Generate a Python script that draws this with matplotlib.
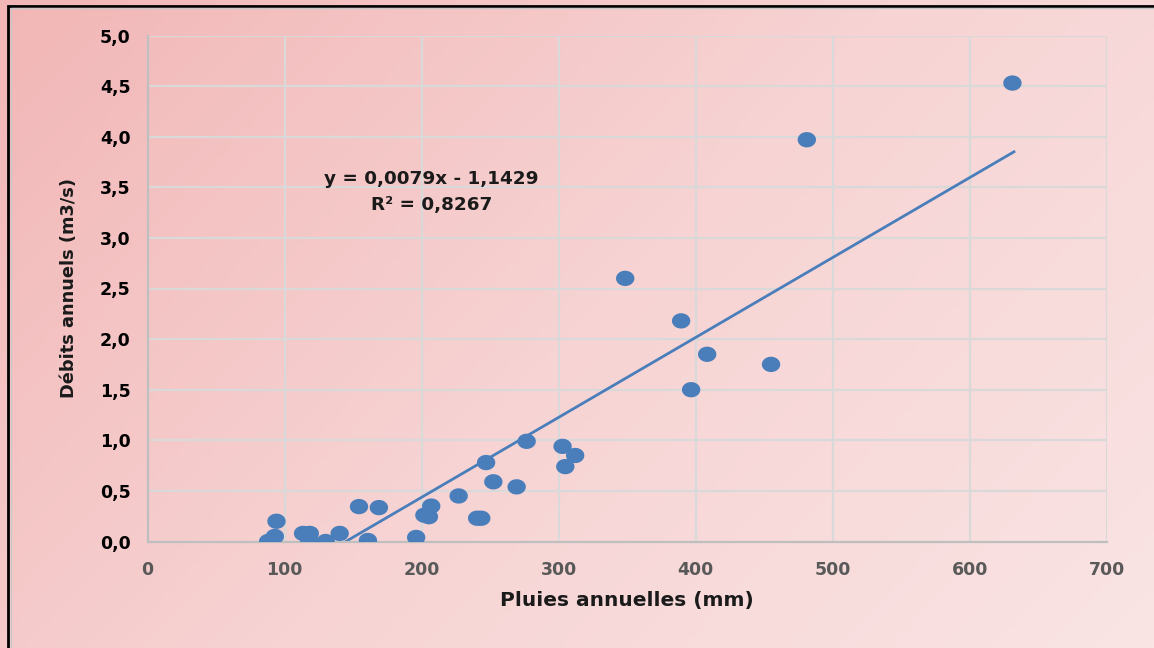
import numpy as np
import matplotlib
matplotlib.use("Agg")
import matplotlib.pyplot as plt
from matplotlib.colors import LinearSegmentedColormap
from matplotlib.patches import Rectangle
from matplotlib.path import Path

# Data
pluies = [88, 92.9, 94.1, 113.5, 118.4, 117.9, 130, 140.2, 154.3, 160.8, 168.8,
          196, 202, 205.3, 207, 227, 240.5, 243.5, 247, 252.3, 269.3, 276.6,
          302.8, 312, 304.8, 348.5, 389.3, 408.3, 396.6, 454.9, 481, 631]
debits = [0.0, 0.05, 0.2, 0.08, 0.08, 0.015, 0.0, 0.08, 0.345, 0.01, 0.335,
          0.04, 0.26, 0.245, 0.35, 0.45, 0.23, 0.23, 0.78, 0.59, 0.54, 0.99,
          0.94, 0.85, 0.74, 2.60, 2.18, 1.85, 1.50, 1.75, 3.97, 4.53]
slope = 0.0079
intercept = -1.1429
r2 = 0.8267
xticks = [0, 100, 200, 300, 400, 500, 600, 700]
yticks = [0.0, 0.5, 1.0, 1.5, 2.0, 2.5, 3.0, 3.5, 4.0, 4.5, 5.0]

blue = "#4a7ebb"

fig = plt.figure(figsize=(11.54, 6.48), dpi=100)

# background gradient
bg = fig.add_axes([0, 0, 1, 1], zorder=-10)
gx, gy = np.meshgrid(np.linspace(0, 1, 300), np.linspace(0, 1, 300))
g = (gx * 0.65 + gy * 0.35)
cmap = LinearSegmentedColormap.from_list("pk", ["#f2b6b6", "#f7d3d3", "#fae4e4"])
bg.imshow(g, cmap=cmap, aspect="auto", extent=[0, 1, 0, 1], origin="upper")
bg.set_xlim(0, 1)
bg.set_ylim(0, 1)
bg.axis("off")
# frame
bg.add_patch(Rectangle((8 / 1154, -0.1), 1.2, 1 - 6 / 648 + 0.1, fill=False,
                       edgecolor="black", lw=2.0, transform=bg.transAxes))
bg.add_patch(Rectangle((10.5 / 1154, -0.1), 1.2, 1 - 8.5 / 648 + 0.1, fill=False,
                       edgecolor="#c8c8c8", lw=1.0, transform=bg.transAxes))

ax = fig.add_axes([147.5 / 1154, 1 - 541.5 / 648, (1107 - 147.5) / 1154,
                   (541.5 - 35.5) / 648])
ax.patch.set_alpha(0)

# slightly wide elliptical marker, like the reference
t = np.linspace(0, 2 * np.pi, 60)
ell = Path(np.column_stack([1.2 * np.cos(t), np.sin(t)]), closed=True)
ax.scatter(pluies, debits, s=175, marker=ell, color=blue, zorder=3,
           edgecolors="none")
xl = np.array([min(pluies), max(pluies) + 2])
ax.plot(xl, slope * xl + intercept, color=blue, lw=2.0, zorder=2,
        solid_capstyle="butt")

ax.set_xlim(0, 700)
ax.set_ylim(0, 5)
ax.set_xticks(xticks)
ax.set_yticks(yticks)
ax.set_xticklabels([str(v) for v in xticks], color="#595959",
                   fontweight="bold", fontsize=12.5)
ax.set_yticklabels([f"{v:.1f}".replace(".", ",") for v in yticks],
                   color="black", fontweight="bold", fontsize=12.5)
ax.tick_params(length=0, pad=12)
ax.tick_params(axis="x", pad=14)
ax.grid(True, color="#d9d9d9", lw=1.6)
ax.set_axisbelow(True)
for s in ["top", "right"]:
    ax.spines[s].set_visible(False)
for s in ["left", "bottom"]:
    ax.spines[s].set_color("#bfbfbf")
    ax.spines[s].set_linewidth(1.6)

ax.set_xlabel("Pluies annuelles (mm)", fontsize=14.5, fontweight="bold",
              color="#1a1a1a", labelpad=9)
ax.set_ylabel("Débits annuels (m3/s)", fontsize=12.8, fontweight="bold",
              color="#1a1a1a", labelpad=16)

eq = f"y = {slope:.4f}x - {abs(intercept):.4f}".replace(".", ",")
r2t = f"R² = {r2:.4f}".replace(".", ",")
ax.text(207, 3.58, eq, ha="center", va="center", fontsize=13.2,
        fontweight="bold", color="#1a1a1a")
ax.text(207, 3.33, r2t, ha="center", va="center", fontsize=13.2,
        fontweight="bold", color="#1a1a1a")

fig.savefig("out.png", dpi=100)
